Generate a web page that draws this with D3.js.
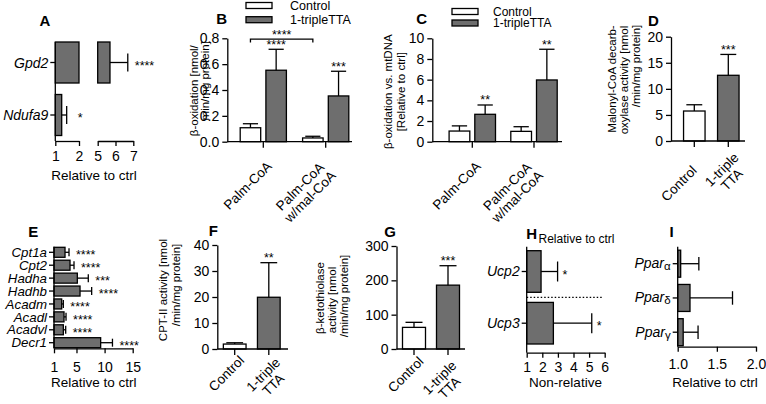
<!DOCTYPE html>
<html><head><meta charset="utf-8">
<script src="https://cdn.jsdelivr.net/npm/d3@7"></script>
<style>
body{margin:0;background:#fff;}
svg text{font-family:"Liberation Sans",Arial,Helvetica,sans-serif;fill:#000;}
</style></head><body>
<script>
// ================= DATA =================
const legendLabels = ["Control", "1-tripleTTA"];
// A
const aGenes = ["Gpd2", "Ndufa9"];
const aMean = [5.69, 1.27];
const aSD = [1.0, 0.21];
const aStars = ["****", "*"];
const aTicksLow = [1, 2];
const aTicksHigh = [5, 6, 7];
const aTitle = "Relative to ctrl";
// B
const bCats = [["Palm-CoA"], ["Palm-CoA", "w/mal-CoA"]];
const bCtrl = [0.108, 0.029];
const bCtrlSD = [0.031, 0.013];
const bTTA = [0.553, 0.354];
const bTTASD = [0.162, 0.191];
const bStars = ["****", "***"];
const bBracketStars = "****";
const bTicks = [0, 0.2, 0.4, 0.6, 0.8];
const bTitle = ["β-oxidation [nmol/", "min/mg protein]"];
// C
const cCats = [["Palm-CoA"], ["Palm-CoA", "w/mal-CoA"]];
const cCtrl = [1.03, 1.0];
const cCtrlSD = [0.5, 0.45];
const cTTA = [2.65, 5.97];
const cTTASD = [0.9, 2.97];
const cStars = ["**", "**"];
const cTicks = [0, 2, 4, 6, 8, 10];
const cTitle = ["β-oxidation vs. mtDNA", "[Relative to ctrl]"];
// D
const dCats = [["Control"], ["1-triple", "TTA"]];
const dMean = [5.75, 12.6];
const dSD = [1.2, 4.0];
const dStars = ["", "***"];
const dTicks = [0, 5, 10, 15, 20];
const dTitle = ["Malonyl-CoA decarb-", "oxylase activity [nmol", "/min/mg protein]"];
// E
const eGenes = ["Cpt1a", "Cpt2", "Hadha", "Hadhb", "Acadm", "Acadl", "Acadvl", "Decr1"];
const eMean = [2.96, 3.85, 5.15, 5.63, 2.37, 2.78, 2.66, 9.3];
const eSD = [0.71, 0.71, 1.95, 2.07, 0.29, 0.36, 0.42, 2.1];
const eStars = ["****", "****", "***", "****", "****", "****", "****", "****"];
const eTicks = [1, 5, 10, 15];
// F
const fCats = [["Control"], ["1-triple", "TTA"]];
const fMean = [1.9, 19.9];
const fSD = [0.5, 13.3];
const fStars = ["", "**"];
const fTicks = [0, 10, 20, 30, 40];
const fTitle = ["CPT-II activity [nmol", "/min/mg protein]"];
// G
const gCats = [["Control"], ["1-triple", "TTA"]];
const gMean = [63, 186];
const gSD = [14.7, 56.6];
const gStars = ["", "***"];
const gTicks = [0, 100, 200, 300];
const gTitle = ["β-ketothiolase", "activity [nmol", "/min/mg protein]"];
// H
const hGenes = ["Ucp2", "Ucp3"];
const hMean = [1.92, 2.71];
const hSD = [1.06, 2.46];
const hStars = ["*", "*"];
const hTicks = [1, 2, 3, 4, 5, 6];
// I
const iGenes = [["Ppar", "α"], ["Ppar", "δ"], ["Ppar", "γ"]];
const iMean = [1.038, 1.157, 1.07];
const iSD = [0.232, 0.543, 0.19];
const iTicks = [1.0, 1.5, 2.0];

// ================= DRAWING =================
const GRAY = "#6e6e6e", SW = 1.3, TICKFS = 14, GENEFS = 14, ROTFS = 13.5;
const svg = d3.select("body").append("svg").attr("width", 766).attr("height", 404);

function ln(g, x1, y1, x2, y2, o = {}) {
  return g.append("line").attr("x1", x1).attr("y1", y1).attr("x2", x2).attr("y2", y2)
    .attr("stroke", "#000").attr("stroke-width", o.w || SW).attr("stroke-dasharray", o.dash || null);
}
function tx(g, x, y, s, o = {}) {
  return g.append("text").attr("x", x).attr("y", y).attr("font-size", o.fs || 13)
    .attr("text-anchor", o.anchor || "start").attr("font-weight", o.fw || null)
    .attr("font-style", o.it ? "italic" : null).text(s);
}
function letter(t, x, y) { tx(svg, x, y, t, { fs: 15, fw: "bold", anchor: "middle" }); }
function yTitle(lines) {
  lines.forEach(l => svg.append("text").attr("transform", `translate(${l.x},${l.y}) rotate(-90)`)
    .attr("text-anchor", "middle").attr("dy", "0.35em").attr("font-size", 11.5).text(l.t));
}
function axisStyle(g, fs) {
  g.attr("font-family", null).attr("font-size", null);
  g.selectAll("text").attr("font-size", fs);
  g.select(".domain").attr("stroke-width", SW);
  g.selectAll(".tick line").attr("stroke-width", SW);
}
// rotated category label; (x,y) = end-middle of first line, further lines centred under it
function rotLabel(g, x, y, lines, fs) {
  const t = g.append("g").attr("transform", `translate(${x},${y}) rotate(-45)`);
  const lh = fs * 1.05;
  const texts = lines.map((s, i) => t.append("text").attr("font-size", fs)
    .attr("y", i * lh).attr("dy", "0.35em").attr("text-anchor", "end").text(s));
  const w = texts.map(e => e.node().getComputedTextLength());
  texts.forEach((e, i) => e.attr("x", -(w[0] - w[i]) / 2));
}
function legend(x, y1, y2, tx0, fs) {
  [[y1, "#fff"], [y2, GRAY]].forEach(([yy, f], i) => {
    svg.append("rect").attr("x", x).attr("y", yy - 3).attr("width", 26).attr("height", 6)
      .attr("fill", f).attr("stroke", "#000").attr("stroke-width", SW);
    tx(svg, tx0, yy + fs * 0.36, legendLabels[i], { fs });
  });
}

function vPanel(c) {
  const g = svg.append("g");
  const y = d3.scaleLinear().domain([0, c.max]).range([c.yBot, c.yTop]);
  const xc = d3.scalePoint().domain(d3.range(c.cats.length)).range(c.centers);
  const ns = c.series.length;
  const tot = ns * c.bw + (ns - 1) * c.gap;
  const sub = d3.scaleBand().domain(d3.range(ns)).range([-tot / 2, tot / 2])
    .paddingInner(ns > 1 ? c.gap / (c.bw + c.gap) : 0).paddingOuter(0);
  c.series.forEach((s, si) => {
    s.mean.forEach((m, i) => {
      const x0 = xc(i) + sub(si), bw = sub.bandwidth(), cx = x0 + bw / 2;
      g.append("rect").attr("x", x0).attr("y", y(m)).attr("width", bw).attr("height", y(0) - y(m))
        .attr("fill", s.fills ? s.fills[i] : s.fill).attr("stroke", "#000").attr("stroke-width", SW);
      const et = y(m + s.sd[i]);
      ln(g, cx, y(m), cx, et);
      ln(g, cx - bw * 0.37, et, cx + bw * 0.37, et);
      if (s.stars && s.stars[i]) tx(g, cx, et - 0.5, s.stars[i], { fs: 12.5, anchor: "middle" });
    });
  });
  const ya = g.append("g").attr("transform", `translate(${c.ax},0)`)
    .call(d3.axisLeft(y).tickValues(c.ticks).tickFormat(c.fmt).tickSize(5).tickSizeOuter(0).tickPadding(3));
  axisStyle(ya, TICKFS);
  ln(g, c.ax, c.yBot, c.axEnd, c.yBot);
  c.cats.forEach((cat, i) => {
    ln(g, xc(i), c.yBot, xc(i), c.yBot + 6);
    rotLabel(g, xc(i) + c.lab[i][0], c.yBot + c.lab[i][1], cat, ROTFS);
  });
  return { y, xc, sub, g };
}

function hPanel(c) {
  const g = svg.append("g");
  const x = d3.scaleLinear().domain(c.domain).range(c.xr);
  const y = d3.scalePoint().domain(d3.range(c.genes.length)).range(c.rows);
  const gfs = c.geneFs || GENEFS;
  c.mean.forEach((m, i) => {
    g.append("rect").attr("x", x(c.domain[0])).attr("y", y(i) - c.bh / 2)
      .attr("width", x(m) - x(c.domain[0])).attr("height", c.bh)
      .attr("fill", GRAY).attr("stroke", "#000").attr("stroke-width", SW);
    const e = x(m + c.sd[i]);
    ln(g, x(m), y(i), e, y(i));
    ln(g, e, y(i) - c.cap / 2, e, y(i) + c.cap / 2);
    if (c.stars && c.stars[i]) tx(g, e + c.starGap, y(i) + 7, c.stars[i], { fs: 12.5 });
  });
  ln(g, c.xr[0], c.yTop, c.xr[0], c.axisY);
  c.genes.forEach((gn, i) => {
    ln(g, c.xr[0] - 5, y(i), c.xr[0], y(i));
    if (Array.isArray(gn)) {
      const t = tx(g, c.xr[0] - 7, y(i) + 4.5, gn[0], { fs: gfs, it: true, anchor: "end" });
      t.append("tspan").attr("font-style", "normal").attr("font-size", 11.5).attr("dy", 2).text(gn[1]);
    } else tx(g, c.xr[0] - 7, y(i) + gfs * 0.35, gn, { fs: gfs, it: true, anchor: "end" });
  });
  const xa = g.append("g").attr("transform", `translate(0,${c.axisY})`)
    .call(d3.axisBottom(x).tickValues(c.ticks).tickFormat(c.fmt).tickSize(5).tickSizeOuter(0).tickPadding(c.pad));
  axisStyle(xa, TICKFS);
  tx(g, c.title[0], c.title[1], c.title[2], { fs: 13.5, anchor: "middle" });
  return { x, y, g };
}

// ---------- Panel A ----------
(function () {
  const g = svg.append("g");
  const x1 = d3.scaleLinear().domain([1, 2]).range([55.3, 79]);
  const x2 = d3.scaleLinear().domain([5, 7]).range([97.7, 133.3]);
  const y = d3.scalePoint().domain(d3.range(aGenes.length)).range([62.5, 115]);
  const bh = 41, axisY = 141;
  aMean.forEach((m, i) => {
    const r = (xa, xb) => g.append("rect").attr("x", xa).attr("y", y(i) - bh / 2).attr("width", xb - xa)
      .attr("height", bh).attr("fill", GRAY).attr("stroke", "#000").attr("stroke-width", SW);
    let e, xm;
    if (m > 2) { r(x1(1), x1(2)); r(x2(5), x2(m)); xm = x2(m); e = x2(m + aSD[i]); }
    else { r(x1(1), x1(m)); xm = x1(m); e = x1(m + aSD[i]); }
    ln(g, xm, y(i), e, y(i));
    ln(g, e, y(i) - 9, e, y(i) + 9);
    tx(g, e + (m > 2 ? 7 : 11), y(i) + 7, aStars[i], { fs: 12.5 });
    ln(g, x1(1) - 5, y(i), x1(1), y(i));
    tx(g, x1(1) - 7, y(i) + 5, aGenes[i], { fs: GENEFS, it: true, anchor: "end" });
  });
  ln(g, x1(1), 42, x1(1), axisY);
  [[x1, aTicksLow], [x2, aTicksHigh]].forEach(([sc, tk]) => {
    const a = g.append("g").attr("transform", `translate(0,${axisY})`)
      .call(d3.axisBottom(sc).tickValues(tk).tickFormat(d3.format("d")).tickSize(5).tickSizeOuter(0).tickPadding(5));
    axisStyle(a, TICKFS);
  });
  tx(g, 94, 179.5, aTitle, { fs: 13.5, anchor: "middle" });
})();
letter("A", 45, 25.5);

// ---------- Panel B ----------
legend(246, 5.5, 19.7, 290, 12.5);
const B = vPanel({
  ax: 227.3, axEnd: 352, yTop: 38.3, yBot: 141.7, max: 0.8, ticks: bTicks, fmt: d3.format(".1f"),
  cats: bCats, centers: [263.3, 325.7], bw: 20.5, gap: 5.2, lab: [[6, 22], [-4, 23]],
  series: [{ mean: bCtrl, sd: bCtrlSD, fill: "#fff" }, { mean: bTTA, sd: bTTASD, fill: GRAY, stars: bStars }]
});
(function () {
  const xa = B.xc(0) + B.sub(0) + B.sub.bandwidth() / 2, xb = B.xc(1) + B.sub(0) + B.sub.bandwidth() / 2;
  const yb = B.y(0.8) + 0.8;
  B.g.append("path").attr("d", `M${xa},${yb + 3.5}V${yb}H${xb}V${yb + 3.5}`)
    .attr("fill", "none").attr("stroke", "#000").attr("stroke-width", SW);
  tx(B.g, (xa + xb) / 2, yb + 0.3, bBracketStars, { fs: 12.5, anchor: "middle" });
})();
yTitle([{ t: bTitle[0], x: 193.7, y: 90.7 }, { t: bTitle[1], x: 204.5, y: 80.8 }]);
letter("B", 221.7, 24);

// ---------- Panel C ----------
legend(452, 11.5, 23, 493, 12);
vPanel({
  ax: 432.3, axEnd: 562, yTop: 38.3, yBot: 141.7, max: 10, ticks: cTicks, fmt: d3.format("d"),
  cats: cCats, centers: [472.3, 534], bw: 20.7, gap: 5, lab: [[6, 22], [-5, 23]],
  series: [{ mean: cCtrl, sd: cCtrlSD, fill: "#fff" }, { mean: cTTA, sd: cTTASD, fill: GRAY, stars: cStars }]
});
yTitle([{ t: cTitle[0], x: 388.3, y: 91.7 }, { t: cTitle[1], x: 401, y: 91.7 }]);
letter("C", 421.7, 24);

// ---------- Panel D ----------
vPanel({
  ax: 671, axEnd: 745, yTop: 36.7, yBot: 141, max: 20, ticks: dTicks, fmt: d3.format("d"),
  cats: dCats, centers: [694.3, 728.3], bw: 21.5, gap: 0, lab: [[0, 27], [8, 14]],
  series: [{ mean: dMean, sd: dSD, fills: ["#fff", GRAY], stars: dStars }]
});
yTitle([{ t: dTitle[0], x: 612.3, y: 79 }, { t: dTitle[1], x: 624.3, y: 80 }, { t: dTitle[2], x: 636, y: 66 }]);
letter("D", 653.3, 25.5);

// ---------- Panel E ----------
hPanel({
  domain: [1, 15], xr: [54, 132.7], rows: [252.3, 342.7], bh: 10, cap: 8, yTop: 246.7, axisY: 348.3,
  genes: eGenes, geneFs: 13.3, mean: eMean, sd: eSD, stars: eStars, starGap: 7, ticks: eTicks, fmt: d3.format("d"), pad: 9,
  title: [93.8, 387.3, "Relative to ctrl"]
});
letter("E", 33.3, 237.4);

// ---------- Panel F ----------
vPanel({
  ax: 217.3, axEnd: 288, yTop: 245, yBot: 349, max: 40, ticks: fTicks, fmt: d3.format("d"),
  cats: fCats, centers: [234.7, 268.8], bw: 22.7, gap: 0, lab: [[7, 9], [9, 11]],
  series: [{ mean: fMean, sd: fSD, fills: ["#fff", GRAY], stars: fStars }]
});
yTitle([{ t: fTitle[0], x: 163, y: 290 }, { t: fTitle[1], x: 175.5, y: 285 }]);
letter("F", 213.3, 236);

// ---------- Panel G ----------
vPanel({
  ax: 396.5, axEnd: 465, yTop: 246, yBot: 349, max: 300, ticks: gTicks, fmt: d3.format("d"),
  cats: gCats, centers: [414, 448], bw: 23, gap: 0, lab: [[7, 10], [6, 14]],
  series: [{ mean: gMean, sd: gSD, fills: ["#fff", GRAY], stars: gStars }]
});
yTitle([{ t: gTitle[0], x: 319.5, y: 298 }, { t: gTitle[1], x: 331.5, y: 300 }, { t: gTitle[2], x: 343.5, y: 296 }]);
letter("G", 390, 236.7);

// ---------- Panel H ----------
const H = hPanel({
  domain: [1, 6], xr: [526.7, 604.7], rows: [271.5, 323.2], bh: 41.6, cap: 20, yTop: 246.7, axisY: 352.7,
  genes: hGenes, mean: hMean, sd: hSD, stars: hStars, starGap: 5, ticks: hTicks, fmt: d3.format("d"), pad: 4.5,
  title: [565.5, 387.3, "Non-relative"]
});
ln(H.g, 526.7, (H.y(0) + H.y(1)) / 2, H.x(5.85), (H.y(0) + H.y(1)) / 2, { w: 1.2, dash: "1.5,2" });
tx(svg, 538.5, 242.8, "Relative to ctrl", { fs: 12 });
letter("H", 531.7, 239);

// ---------- Panel I ----------
hPanel({
  domain: [1, 2], xr: [677.7, 756], rows: [263.7, 332.2], bh: 27, cap: 13.5, yTop: 246.7, axisY: 346.7,
  genes: iGenes, mean: iMean, sd: iSD, stars: null, starGap: 5, ticks: iTicks, fmt: d3.format(".1f"), pad: 7,
  title: [715, 387.3, "Relative to ctrl"]
});
letter("I", 671.7, 237.4);
</script></body></html>
